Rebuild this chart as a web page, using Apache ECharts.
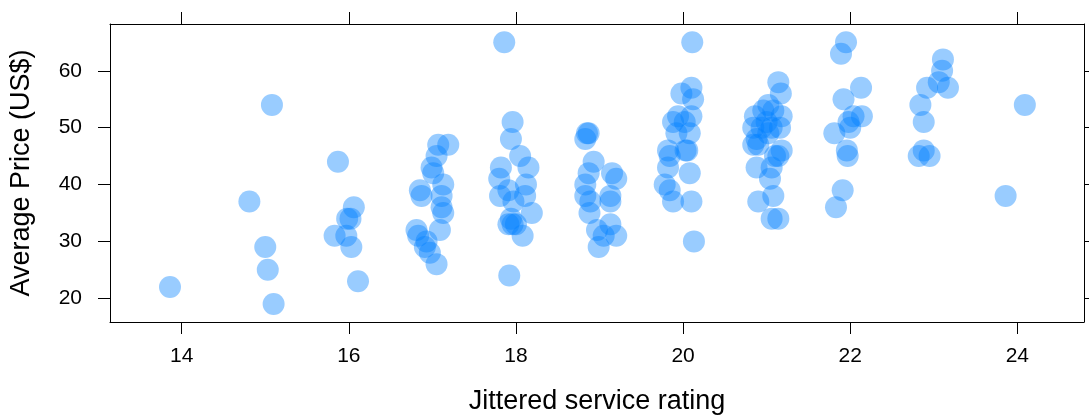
<!DOCTYPE html>
<html>
<head>
<meta charset="utf-8">
<script src="https://cdn.jsdelivr.net/npm/echarts@6/dist/echarts.min.js"></script>
<style>
html,body{margin:0;padding:0;background:#fff;}
#chart{width:1089px;height:417px;}
</style>
</head>
<body>
<div id="chart"></div>
<script>
// Jittered service rating (x) and average price in US$ (y)
const serviceJitter = [
  13.86, 14.81, 15.08, 15.00, 15.03, 15.10,
  15.87, 15.83, 15.97, 16.06, 15.98, 16.02, 16.03, 16.11,
  17.07, 17.19, 17.05, 16.99, 17.01, 17.13, 16.85, 16.87, 17.11, 17.11, 17.13, 16.81, 16.83, 17.09, 16.93, 16.91, 16.97, 17.05,
  17.86, 17.96, 17.94, 18.05, 17.82, 18.15, 17.80, 18.12, 17.91, 17.81, 18.11, 17.97, 18.19, 17.91, 17.96, 17.94, 18.00, 18.08, 17.92,
  18.85, 18.87, 18.83, 18.93, 18.87, 19.15, 19.20, 18.83, 19.13, 18.83, 18.89, 19.13, 18.88, 19.13, 18.97, 19.05, 19.20, 18.99,
  20.11, 20.10, 19.98, 20.12, 19.94, 20.10, 19.88, 20.02, 19.92, 20.08, 19.82, 20.05, 20.03, 19.84, 19.82, 20.08, 19.78, 19.84, 19.88, 20.10, 20.13,
  21.14, 21.17, 21.02, 21.08, 20.96, 20.86, 21.18, 21.00, 20.94, 21.06, 20.84, 21.16, 21.02, 20.88, 20.84, 20.90, 21.18, 21.10, 21.14, 20.88, 21.06, 21.04, 21.08, 20.90, 21.06, 21.14,
  21.95, 21.89, 22.13, 21.92, 22.14, 22.04, 21.98, 22.00, 21.81, 21.96, 21.97, 21.91, 21.83,
  23.11, 23.10, 23.06, 23.17, 22.92, 22.84, 22.88, 22.88, 22.82, 22.95,
  24.09, 23.86
];
const avgPrice = [
  22, 37, 54, 29, 25, 19,
  44, 31, 31, 36, 34, 34, 29, 23,
  47, 47, 45, 43, 42, 40, 39, 38, 38, 36, 35, 32, 31, 32, 30, 29, 28, 26,
  65, 51, 48, 45, 43, 43, 41, 40, 39, 38, 38, 37, 35, 33, 33, 34, 33, 31, 24,
  49, 49, 48, 44, 42, 42, 41, 40, 38, 38, 37, 37, 35, 33, 32, 31, 31, 29,
  65, 57, 56, 55, 52, 52, 51, 51, 49, 49, 46, 46, 46, 45, 43, 42, 40, 39, 37, 37, 30,
  58, 56, 54, 53, 53, 52, 52, 51, 50, 50, 50, 50, 49, 48, 47, 47, 46, 45, 45, 43, 43, 41, 38, 37, 34, 34,
  65, 63, 57, 55, 52, 52, 51, 50, 49, 46, 45, 39, 36,
  62, 60, 58, 57, 57, 54, 51, 46, 45, 45,
  54, 38
];
const xTicks = [14, 16, 18, 20, 22, 24];
const yTicks = [20, 30, 40, 50, 60];
const xRange = [13.142, 24.798];
const yRange = [15.83, 68.22];

const points = serviceJitter.map((x, i) => [x, avgPrice[i]]);
const FONT = "'Liberation Sans', Arial, sans-serif";

function makeAxis(isX, pos, showLabels) {
  const ticks = isX ? xTicks : yTicks;
  const range = isX ? xRange : yRange;
  return {
    type: 'value',
    position: pos,
    min: range[0],
    max: range[1],
    splitLine: { show: false },
    axisLine: { show: true, onZero: false, lineStyle: { color: '#000', width: 1 } },
    axisTick: { show: true, inside: false, length: 12, customValues: ticks, lineStyle: { color: '#000', width: 1 } },
    axisLabel: {
      show: showLabels,
      customValues: ticks,
      fontFamily: FONT,
      fontSize: 21,
      color: '#000',
      margin: isX ? 24 : 28
    }
  };
}

const chart = echarts.init(document.getElementById('chart'), null, { renderer: 'canvas' });
chart.setOption({
  animation: false,
  backgroundColor: '#fff',
  grid: { left: 110, right: 5, top: 24, bottom: 95, containLabel: false },
  xAxis: [makeAxis(true, 'bottom', true), makeAxis(true, 'top', false)],
  yAxis: [makeAxis(false, 'left', true), makeAxis(false, 'right', false)],
  graphic: [
    {
      type: 'text', left: null, x: 597, y: 402,
      style: { text: 'Jittered service rating', font: "27px 'Liberation Sans', Arial, sans-serif", fill: '#000', align: 'center', verticalAlign: 'middle' }
    },
    {
      type: 'text', x: 22, y: 173, rotation: Math.PI / 2,
      style: { text: 'Average Price (US$)', font: "27px 'Liberation Sans', Arial, sans-serif", fill: '#000', align: 'center', verticalAlign: 'middle' }
    }
  ],
  series: [{
    type: 'scatter',
    xAxisIndex: 0,
    yAxisIndex: 0,
    symbol: 'circle',
    symbolSize: 22,
    itemStyle: { color: 'rgba(0,128,255,0.5)', borderWidth: 0 },
    data: points
  }]
});
</script>
</body>
</html>
